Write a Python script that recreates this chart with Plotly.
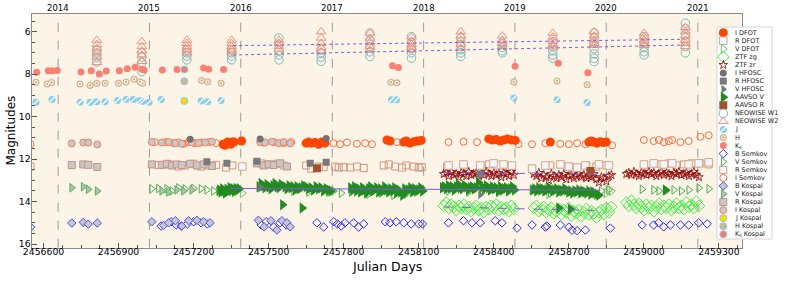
import plotly.graph_objects as go

W, H = 789, 282
OFF = 0  # body margin removed by post_script below, so figure pixels == screenshot pixels
# plot-area pixel box (measured in the reference picture)
PL, PR, PT, PB = 31.5, 741.7, 14.0, 247.7
X_RANGE = [2456552, 2459391]
Y_RANGE = [16.17, 5.17]

# ---------------- data ----------------
kos_I_jd = [2456713, 2456759, 2456779, 2456815, 2457033, 2457073, 2457100, 2457127, 2457153, 2457193,
            2457220, 2457246, 2457273, 2457466, 2457486, 2457513, 2457540, 2457560, 2457586]
kos_I_mag = [11.26, 11.22, 11.22, 11.31, 11.2, 11.22, 11.2, 11.25, 11.28, 11.22,
             11.24, 11.22, 11.18, 11.2, 11.22, 11.18, 11.25, 11.2, 11.26]
kos_R_jd = [2456713, 2456759, 2456779, 2456815, 2457033, 2457073, 2457093, 2457113, 2457133, 2457153,
            2457186, 2457213, 2457240, 2457273, 2457453, 2457480, 2457500, 2457520, 2457546, 2457573]
kos_R_mag = [12.28, 12.25, 12.27, 12.37, 12.25, 12.27, 12.22, 12.3, 12.25, 12.28,
             12.22, 12.3, 12.25, 12.32, 12.2, 12.3, 12.25, 12.28, 12.2, 12.35]
kos_V_jd = [2456713, 2456759, 2456779, 2456815, 2457073, 2457100, 2457133, 2457160, 2457193, 2457466]
kos_V_mag = [13.35, 13.3, 13.42, 13.5, 13.5, 13.55, 13.45, 13.5, 13.45, 13.35]
kos_B_jd = [2456713, 2456759, 2456779, 2456815, 2457033, 2457080, 2457100, 2457127, 2457153, 2457180,
            2457213, 2457240, 2457266, 2457459, 2457482, 2457509, 2457533, 2457553, 2457573, 2457586]
kos_B_mag = [15.01, 14.98, 15.06, 15.01, 14.95, 15.12, 15.0, 14.9, 15.15, 14.9,
             14.88, 14.95, 15.0, 14.88, 15.19, 14.9, 15.34, 14.9, 15.0, 15.19]
kos_J_jd, kos_J_mag = [2457163], [9.26]
kos_H_jd, kos_H_mag = [2457163], [8.34]
kos_K_jd, kos_K_mag = [2457163], [7.78]

sem_I_jd = [2456548, 2457045, 2457090, 2457120, 2457140, 2457160, 2457180, 2457205, 2457230, 2457260,
            2457290, 2457480, 2457520, 2457560, 2457590, 2457700, 2457759, 2457786, 2457813, 2457853,
            2457886, 2457913, 2458013, 2458060, 2458219, 2458279, 2458333, 2458499, 2458553, 2458606,
            2458666, 2458700, 2458733, 2458766, 2458873, 2459000, 2459039, 2459060, 2459080, 2459100,
            2459113, 2459146, 2459179, 2459226, 2459259]
sem_I_mag = [11.3, 11.2, 11.2, 11.25, 11.22, 11.28, 11.2, 11.25, 11.22, 11.2,
             11.25, 11.22, 11.2, 11.25, 11.2, 11.3, 11.25, 11.3, 11.22, 11.28,
             11.25, 11.3, 11.2, 11.25, 11.2, 11.18, 11.2, 11.3, 11.3, 11.25,
             11.28, 11.3, 11.25, 11.3, 11.35, 11.1, 11.15, 11.1, 11.2, 11.15,
             11.1, 11.2, 11.15, 10.95, 10.88]
sem_R_jd = [2456548, 2457060, 2457100, 2457140, 2457166, 2457200, 2457230, 2457260, 2457290, 2457330,
            2457355, 2457470, 2457493, 2457530, 2457560, 2457650, 2457670, 2457700, 2457720, 2457766,
            2457780, 2457800, 2457826, 2457853, 2457880, 2457960, 2457980, 2458006, 2458033, 2458050,
            2458080, 2458100, 2458112, 2458213, 2458280, 2458346, 2458380, 2458420, 2458450, 2458553,
            2458626, 2458666, 2458700, 2458733, 2458770, 2458810, 2458850, 2459000, 2459040, 2459070,
            2459100, 2459130, 2459160, 2459190, 2459226, 2459259]
sem_R_mag = [12.35, 12.28, 12.25, 12.35, 12.3, 12.22, 12.35, 12.3, 12.27, 12.4,
             12.3, 12.2, 12.25, 12.22, 12.3, 12.3, 12.45, 12.35, 12.38, 12.35,
             12.4, 12.38, 12.4, 12.35, 12.42, 12.3, 12.25, 12.35, 12.4, 12.3,
             12.35, 12.4, 12.38, 12.35, 12.3, 12.4, 12.25, 12.3, 12.35, 12.45,
             12.3, 12.25, 12.35, 12.4, 12.3, 12.35, 12.3, 12.3, 12.2, 12.25,
             12.2, 12.3, 12.25, 12.2, 12.2, 12.25]
sem_V_jd = [2457033, 2457060, 2457093, 2457113, 2457140, 2457166, 2457200, 2457230, 2457253, 2457280,
            2457300, 2457600, 2457660, 2457740, 2457760, 2457790, 2457830, 2457900, 2457950, 2458000,
            2458050, 2458220, 2458300, 2458350, 2458420, 2458553, 2458626, 2458800, 2458830, 2458860,
            2458993, 2459039, 2459060, 2459090, 2459120, 2459150, 2459180, 2459220, 2459260]
sem_V_mag = [13.4, 13.38, 13.4, 13.5, 13.35, 13.4, 13.38, 13.4, 13.45, 13.5,
             13.5, 13.5, 13.55, 13.55, 13.5, 13.6, 13.55, 13.65, 13.6, 13.7,
             13.65, 13.5, 13.55, 13.6, 13.55, 13.45, 13.6, 13.55, 13.5, 13.45,
             13.42, 13.45, 13.5, 13.48, 13.45, 13.5, 13.45, 13.35, 13.4]
sem_B_jd = [2456548, 2457070, 2457110, 2457130, 2457150, 2457175, 2457200, 2457230, 2457255, 2457470,
            2457490, 2457520, 2457545, 2457570, 2457693, 2457720, 2457760, 2457775, 2457790, 2457805,
            2457840, 2457860, 2457880, 2457966, 2457985, 2458010, 2458040, 2458070, 2458100, 2458115,
            2458219, 2458279, 2458313, 2458346, 2458406, 2458433, 2458493, 2458553, 2458606, 2458612,
            2458666, 2458700, 2458713, 2458733, 2458766, 2458866, 2458993, 2459039, 2459059, 2459079,
            2459106, 2459146, 2459179, 2459219, 2459253]
sem_B_mag = [15.2, 15.15, 14.95, 15.1, 15.15, 15.05, 14.95, 15.0, 15.05, 15.1,
             14.95, 15.2, 15.0, 15.1, 15.0, 15.2, 14.95, 15.05, 15.15, 15.0,
             15.0, 15.2, 15.05, 14.95, 15.0, 14.95, 15.0, 15.05, 15.05, 15.05,
             15.0, 14.9, 15.0, 15.0, 14.9, 15.0, 15.25, 15.1, 15.2, 15.15,
             15.1, 15.2, 15.35, 15.37, 15.34, 15.25, 15.1, 15.1, 15.0, 15.19,
             15.1, 15.1, 15.1, 15.0, 15.05]

dfot_I_jd = [2457318, 2457325, 2457330, 2457336, 2457342, 2457348, 2457355, 2457362, 2457392, 2457650,
             2457660, 2457670, 2457685, 2457700, 2457712, 2457725, 2457973, 2457985, 2458040, 2458050,
             2458065, 2458080, 2458095, 2458110, 2458380, 2458395, 2458410, 2458425, 2458440, 2458455,
             2458470, 2458486, 2458626, 2458780, 2458790, 2458800, 2458812, 2458825, 2458838, 2458850]
dfot_I_mag = [11.3, 11.35, 11.25, 11.2, 11.25, 11.3, 11.2, 11.2, 11.15, 11.25,
              11.2, 11.25, 11.22, 11.3, 11.2, 11.25, 11.1, 11.15, 11.2, 11.15,
              11.25, 11.18, 11.15, 11.12, 11.05, 11.1, 11.08, 11.15, 11.1, 11.05,
              11.1, 11.12, 11.2, 11.2, 11.15, 11.2, 11.25, 11.18, 11.22, 11.2]
dfot_R_jd = [2457395, 2458219, 2458279, 2458346, 2458413, 2458399, 2458439, 2458473, 2458553, 2458606,
             2458666, 2458700, 2458733, 2458766, 2458820, 2458860, 2459000, 2459039, 2459080, 2459113,
             2459179, 2459219, 2459259]
dfot_R_mag = [12.35, 12.3, 12.25, 12.3, 12.28, 12.2, 12.25, 12.3, 12.45, 12.3,
              12.25, 12.35, 12.4, 12.3, 12.25, 12.3, 12.25, 12.2, 12.25, 12.2,
              12.25, 12.2, 12.15]
dfot_V_jd = [2457395, 2458420, 2458620, 2458850, 2458870]
dfot_V_mag = [13.6, 13.55, 13.65, 13.6, 13.5]

hf_I_jd, hf_I_mag = [2457186, 2457466, 2457730], [11.07, 11.05, 11.03]
hf_R_jd = [2457253, 2457333, 2457453, 2457666, 2457730, 2458346]
hf_R_mag = [12.12, 12.2, 12.1, 12.2, 12.15, 12.7]
hf_V_jd, hf_V_mag = [2457466, 2458346], [13.3, 13.68]

aav_R_jd, aav_R_mag = [2457693, 2458786], [12.43, 12.56]
aav_V_jd = [2457304, 2457310, 2457316, 2457322, 2457328, 2457334, 2457340, 2457346, 2457352, 2457358,
            2457364, 2457370, 2457376, 2457382,
            2457462, 2457470, 2457478, 2457486, 2457494, 2457502, 2457510, 2457518, 2457526, 2457534,
            2457542, 2457550, 2457566, 2457574, 2457582, 2457590, 2457598, 2457606, 2457614, 2457622,
            2457630, 2457640, 2457650, 2457660, 2457670, 2457680, 2457690, 2457700, 2457710, 2457720,
            2457730, 2457740, 2457750, 2457556, 2457634,
            2457828, 2457836, 2457844, 2457852, 2457860, 2457868, 2457876, 2457884, 2457892, 2457900,
            2457908, 2457916, 2457924, 2457932, 2457940, 2457948, 2457956, 2457964, 2457972, 2457980,
            2457988, 2457996, 2458004, 2458012, 2458020, 2458028, 2458036, 2458044, 2458052, 2458060,
            2458068, 2458076, 2458084, 2458092, 2458100, 2458108, 2458116,
            2458195, 2458203, 2458211, 2458219, 2458227, 2458235, 2458243, 2458251, 2458259, 2458267,
            2458275, 2458283, 2458291, 2458299, 2458307, 2458315, 2458323, 2458331, 2458339, 2458355,
            2458363, 2458371, 2458379, 2458387, 2458395, 2458403, 2458411, 2458419, 2458427, 2458435,
            2458443, 2458451, 2458459, 2458467, 2458475, 2458483,
            2458556, 2458564, 2458572, 2458580, 2458588, 2458596, 2458604, 2458612, 2458620, 2458628,
            2458636, 2458644, 2458652, 2458660, 2458668, 2458676, 2458684, 2458692, 2458700, 2458708,
            2458716, 2458724, 2458732, 2458740, 2458748, 2458756, 2458764, 2458772, 2458780, 2458788,
            2458796, 2458804, 2458812, 2458820, 2458660, 2458706, 2459086]
aav_V_mag = [13.45, 13.55, 13.4, 13.5, 13.6, 13.42, 13.5, 13.35, 13.48, 13.4,
             13.52, 13.38, 13.45, 13.4,
             13.3, 13.15, 13.25, 13.35, 13.2, 13.3, 13.4, 13.25, 13.15, 13.3,
             13.35, 13.2, 13.3, 13.4, 13.25, 13.35, 13.3, 13.45, 13.3, 13.4,
             13.35, 13.25, 13.3, 13.4, 13.35, 13.45, 13.3, 13.4, 13.35, 13.5,
             13.4, 13.45, 13.5, 14.15, 14.3,
             13.35, 13.45, 13.3, 13.5, 13.4, 13.55, 13.35, 13.45, 13.6, 13.4,
             13.3, 13.5, 13.45, 13.35, 13.55, 13.4, 13.5, 13.3, 13.45, 13.55,
             13.4, 13.5, 13.35, 13.6, 13.45, 13.55, 13.7, 13.4, 13.5, 13.45,
             13.35, 13.55, 13.4, 13.5, 13.45, 13.35, 13.5,
             13.35, 13.3, 13.4, 13.25, 13.35, 13.3, 13.45, 13.3, 13.2, 13.35,
             13.4, 13.25, 13.3, 13.45, 13.35, 13.3, 13.4, 13.35, 13.1, 13.3,
             13.4, 13.25, 13.35, 13.45, 13.3, 13.4, 13.35, 13.5, 13.3, 13.45,
             13.4, 13.35, 13.5, 13.4, 13.3, 13.45,
             13.45, 13.4, 13.5, 13.35, 13.45, 13.4, 13.5, 13.45, 13.35, 13.4,
             13.5, 13.45, 13.4, 13.55, 13.45, 13.5, 13.4, 13.45, 13.55, 13.5,
             13.6, 13.5, 13.55, 13.45, 13.6, 13.5, 13.55, 13.6, 13.5, 13.65,
             13.55, 13.6, 13.65, 13.7, 14.3, 14.35, 13.45]

zg_jd = [2458200, 2458210, 2458220, 2458230, 2458240, 2458250, 2458260, 2458270, 2458280, 2458290,
         2458300, 2458310, 2458320, 2458330, 2458340, 2458350, 2458360, 2458370, 2458380, 2458390,
         2458400, 2458410, 2458420, 2458430, 2458440, 2458450, 2458460, 2458470, 2458480,
         2458560, 2458570, 2458580, 2458590, 2458600, 2458610, 2458620, 2458630, 2458640, 2458650,
         2458660, 2458670, 2458680, 2458690, 2458700, 2458710, 2458720, 2458730, 2458740, 2458750,
         2458760, 2458770, 2458780, 2458790, 2458800, 2458810, 2458820, 2458830, 2458840, 2458850,
         2458860, 2458870,
         2458930, 2458940, 2458950, 2458960, 2458970, 2458980, 2458990, 2459000, 2459010, 2459020,
         2459030, 2459040, 2459050, 2459060, 2459070, 2459080, 2459090, 2459100, 2459110, 2459120,
         2459130, 2459140, 2459150, 2459160, 2459170, 2459180, 2459190, 2459200, 2459210, 2459220]
zg_mag = [14.2, 14.05, 14.3, 14.15, 14.25, 14.4, 14.2, 14.3, 14.15, 14.35,
          14.25, 14.45, 14.3, 14.2, 14.4, 14.3, 14.5, 14.25, 14.35, 14.2,
          14.3, 14.15, 14.4, 14.25, 14.35, 14.3, 14.45, 14.2, 14.35,
          14.3, 14.2, 14.45, 14.35, 14.25, 14.5, 14.4, 14.3, 14.55, 14.45,
          14.35, 14.6, 14.4, 14.5, 14.3, 14.65, 14.45, 14.55, 14.4, 14.7,
          14.5, 14.35, 14.6, 14.45, 14.55, 14.75, 14.5, 14.4, 14.6, 14.3,
          14.5, 14.25,
          14.05, 14.2, 13.95, 14.15, 14.3, 14.1, 14.25, 14.4, 14.15, 14.3,
          14.2, 14.45, 14.25, 14.1, 14.35, 14.2, 14.3, 14.15, 14.4, 14.25,
          14.1, 14.3, 14.2, 14.35, 14.05, 14.25, 14.15, 14.3, 14.0, 14.2]
zr_jd = zg_jd
zr_mag = [12.7, 12.65, 12.8, 12.6, 12.75, 12.7, 12.85, 12.65, 12.7, 12.8,
          12.6, 12.75, 12.7, 12.65, 12.8, 12.7, 12.75, 12.6, 12.7, 12.8,
          12.65, 12.75, 12.7, 12.85, 12.65, 12.7, 12.8, 12.6, 12.75,
          12.7, 12.8, 12.65, 12.9, 12.75, 12.85, 13.0, 12.7, 12.8, 12.9,
          12.75, 12.85, 12.7, 12.95, 12.8, 12.75, 12.9, 12.8, 12.7, 12.85,
          12.75, 12.9, 12.8, 12.85, 12.7, 12.95, 13.1, 12.85, 12.9, 13.05,
          12.8, 12.75,
          12.7, 12.65, 12.75, 12.6, 12.7, 12.8, 12.65, 12.7, 12.75, 12.6,
          12.7, 12.65, 12.8, 12.7, 12.6, 12.75, 12.65, 12.7, 12.8, 12.65,
          12.7, 12.6, 12.75, 12.7, 12.65, 12.8, 12.7, 12.6, 12.75, 12.85]

neo_epochs = [2456813, 2456993, 2457173, 2457352, 2457541, 2457710, 2457905,
              2458071, 2458268, 2458434, 2458636, 2458801, 2459001, 2459166]
w1_mags = [[6.85, 7.0, 7.2, 7.43], [7.0, 7.2, 7.45, 7.88], [6.86, 7.0, 7.15, 7.33],
           [6.86, 7.0, 7.15, 7.33], [6.3, 6.6, 6.9, 7.1, 7.33], [6.86, 7.0, 7.2, 7.4],
           [6.07, 6.4, 6.7, 6.95, 7.17], [6.23, 6.5, 6.8, 7.0, 7.25], [6.3, 6.6, 6.85, 7.0, 7.17],
           [6.55, 6.75, 6.9, 7.0], [6.47, 6.7, 6.9, 7.1, 7.25], [6.07, 6.3, 6.55, 6.8, 7.05, 7.25, 7.41],
           [6.23, 6.5, 6.75, 6.95, 7.1], [5.6, 5.85, 6.15, 6.45, 6.7, 7.0]]
w2_mags = [[6.4, 6.6, 6.8, 7.0, 7.2, 7.45], [6.47, 6.7, 6.9, 7.1, 7.4], [6.4, 6.55, 6.7, 6.85, 7.0],
           [6.4, 6.55, 6.7, 6.85, 6.95], [6.4, 6.55, 6.7, 6.85], [6.0, 6.3, 6.55, 6.75, 6.95],
           [6.07, 6.3, 6.5, 6.7, 6.85], [6.25, 6.45, 6.6, 6.75, 6.85], [6.0, 6.2, 6.4, 6.6, 6.78],
           [6.2, 6.4, 6.55, 6.7], [6.07, 6.25, 6.45, 6.6, 6.72], [6.0, 6.2, 6.4, 6.55, 6.65],
           [6.07, 6.25, 6.4, 6.55, 6.65], [5.8, 6.0, 6.2, 6.4, 6.55, 6.7]]

J_jd = [2456570, 2456634, 2456746, 2456786, 2456812, 2456846, 2456896, 2456930, 2456959, 2456986,
        2456996, 2457022, 2457070, 2457230, 2457256, 2457310, 2457991, 2458012, 2458480, 2458653,
        2458773]
J_mag = [9.32, 9.2, 9.32, 9.32, 9.3, 9.3, 9.24, 9.2, 9.2, 9.24,
         9.29, 9.32, 9.2, 9.27, 9.3, 9.24, 9.21, 9.21, 9.12, 9.21,
         9.33]
H_jd = [2456570, 2456614, 2456632, 2456746, 2456786, 2456813, 2456846, 2456900, 2456930, 2456962,
        2456986, 2456996, 2457232, 2457256, 2457310, 2457989, 2458013, 2458480, 2458653, 2458773]
H_mag = [8.38, 8.46, 8.39, 8.46, 8.53, 8.43, 8.43, 8.43, 8.37, 8.24,
         8.37, 8.43, 8.3, 8.36, 8.43, 8.38, 8.41, 8.37, 8.32, 8.5]
Ks_jd = [2456573, 2456619, 2456635, 2456655, 2456750, 2456791, 2456823, 2456851, 2456903, 2456935,
         2456966, 2456993, 2457002, 2457075, 2457134, 2457240, 2457260, 2457320, 2457995, 2458019,
         2458485, 2458658, 2458776]
Ks_mag = [7.91, 7.84, 7.84, 7.83, 7.9, 7.84, 8.0, 7.85, 7.84, 7.75,
          7.68, 7.77, 7.8, 7.8, 7.78, 7.71, 7.77, 7.78, 7.6, 7.69,
          7.63, 7.49, 7.93]

# trend lines
fit_w2_jd, fit_w2_mag = [2457358, 2459160], [6.66, 6.36]
fit_w1_jd, fit_w1_mag = [2457358, 2459160], [7.10, 6.63]
fit_V_jd, fit_V_mag = [2457346, 2458826], [13.38, 13.46]
fit_zr_jd, fit_zr_mag = [2458200, 2458860], [12.63, 12.72]
fit_zg_jd, fit_zg_mag = [2458200, 2458800], [14.25, 14.42]

year_labels = ["2014", "2015", "2016", "2017", "2018", "2019", "2020", "2021"]
year_jd = [2456658.5, 2457023.5, 2457388.5, 2457754.5, 2458119.5, 2458484.5, 2458849.5, 2459215.5]

# ---------------- styles ----------------
ST = {
    "I DFOT": dict(symbol="circle", size=9, color="#FF4500", lc="#FF4500", lw=0),
    "R DFOT": dict(symbol="square", size=7.5, color="#EEF8F8", lc="#DCA592", lw=1),
    "V DFOT": dict(symbol="triangle-right-open", size=8, color="#6CC46C", lw=1),
    "ZTF zg": dict(symbol="diamond-open", size=9, color="#45F045", lw=1),
    "ZTF zr": dict(symbol="star-open", size=6.5, color="#8B0000", lw=0.8),
    "I HFOSC": dict(symbol="circle", size=7, color="#7A6E6E", lc="#7A6E6E", lw=0),
    "R HFOSC": dict(symbol="square", size=7, color="#7A7A7A", lc="#7A7A7A", lw=0),
    "V HFOSC": dict(symbol="triangle-right", size=7.5, color="#6B7D6B", lc="#6B7D6B", lw=0),
    "AAVSO V": dict(symbol="triangle-right", size=10, color="#228B22", lc="#228B22", lw=0),
    "AAVSO R": dict(symbol="square", size=8, color="#A0522D", lc="#A0522D", lw=0),
    "NEOWISE W1": dict(symbol="circle-open", size=8.5, color="#7DB8BA", lw=1),
    "NEOWISE W2": dict(symbol="triangle-up-open", size=8.5, color="#F7907A", lw=1),
    "J": dict(symbol="circle", size=7, color="#87CEEB", lc="#87CEEB", lw=0),
    "H": dict(symbol="circle", size=7, color="#D2B48C", lc="#D2B48C", lw=0),
    "Ks": dict(symbol="circle", size=7, color="#FA8072", lc="#FA8072", lw=0),
    "B Semkov": dict(symbol="diamond-open", size=6.5, color="#2B2BFF", lw=1),
    "V Semkov": dict(symbol="triangle-right-open", size=7.5, color="#4CAF50", lw=1),
    "R Semkov": dict(symbol="square-open", size=7, color="#D0957E", lw=1),
    "I Semkov": dict(symbol="circle-open", size=7, color="#FF6B3D", lw=1),
    "B Kospal": dict(symbol="diamond", size=6.5, color="#C6C6CC", lc="#5050F0", lw=1),
    "V Kospal": dict(symbol="triangle-right", size=7.5, color="#B2C2B2", lc="#5AB05A", lw=1),
    "R Kospal": dict(symbol="square", size=7, color="#C8C8C8", lc="#C89080", lw=1),
    "I Kospal": dict(symbol="circle", size=7, color="#C8C8C8", lc="#F07F60", lw=1),
    "J Kospal": dict(symbol="circle", size=7, color="#FFD700", lc="#87CEEB", lw=1),
    "H Kospal": dict(symbol="circle", size=7, color="#D2B48C", lc="#87CEEB", lw=1),
    "Ks Kospal": dict(symbol="circle", size=7, color="#F47A6E", lc="#87CEEB", lw=1),
}
LEGEND_ORDER = ["I DFOT", "R DFOT", "V DFOT", "ZTF zg", "ZTF zr", "I HFOSC", "R HFOSC", "V HFOSC",
                "AAVSO V", "AAVSO R", "NEOWISE W1", "NEOWISE W2", "J", "H", "Ks",
                "B Semkov", "V Semkov", "R Semkov", "I Semkov", "B Kospal", "V Kospal",
                "R Kospal", "I Kospal", "J Kospal", "H Kospal", "Ks Kospal"]
LEGEND_TEXT = {"Ks": "K<sub>s</sub>", "Ks Kospal": "K<sub>s</sub> Kospal"}


def mk(x, y, name, xa="x", ya="y"):
    st = ST[name]
    marker = dict(symbol=st["symbol"], size=st["size"], color=st["color"],
                  line=dict(color=st.get("lc", st["color"]), width=st.get("lw", 0)))
    out = [go.Scatter(x=x, y=y, mode="markers", marker=marker, xaxis=xa, yaxis=ya,
                      showlegend=False, hoverinfo="skip")]
    if name == "J":
        out.append(go.Scatter(x=x, y=y, mode="markers", xaxis=xa, yaxis=ya, showlegend=False,
                              hoverinfo="skip",
                              marker=dict(symbol="line-ne", size=5, line=dict(color="white", width=1.3))))
    if name == "H":
        out.append(go.Scatter(x=x, y=y, mode="markers", xaxis=xa, yaxis=ya, showlegend=False,
                              hoverinfo="skip",
                              marker=dict(symbol="circle-open", size=3.6, color="white",
                                          line=dict(color="white", width=1))))
    return out


fig = go.Figure()
series = [
    (sem_B_jd, sem_B_mag, "B Semkov"), (sem_V_jd, sem_V_mag, "V Semkov"),
    (sem_R_jd, sem_R_mag, "R Semkov"), (sem_I_jd, sem_I_mag, "I Semkov"),
    (kos_B_jd, kos_B_mag, "B Kospal"), (kos_V_jd, kos_V_mag, "V Kospal"),
    (kos_R_jd, kos_R_mag, "R Kospal"), (kos_I_jd, kos_I_mag, "I Kospal"),
    (zr_jd, zr_mag, "ZTF zr"), (zg_jd, zg_mag, "ZTF zg"),
    (dfot_R_jd, dfot_R_mag, "R DFOT"), (dfot_V_jd, dfot_V_mag, "V DFOT"),
    (dfot_I_jd, dfot_I_mag, "I DFOT"),
    (aav_V_jd, aav_V_mag, "AAVSO V"), (aav_R_jd, aav_R_mag, "AAVSO R"),
    (hf_I_jd, hf_I_mag, "I HFOSC"), (hf_R_jd, hf_R_mag, "R HFOSC"), (hf_V_jd, hf_V_mag, "V HFOSC"),
]
for x, y, n in series:
    for t in mk(x, y, n):
        fig.add_trace(t)

w1x, w1y, w2x, w2y = [], [], [], []
for ep, m1, m2 in zip(neo_epochs, w1_mags, w2_mags):
    w1x += [ep] * len(m1); w1y += m1
    w2x += [ep] * len(m2); w2y += m2
for t in mk(w1x, w1y, "NEOWISE W1") + mk(w2x, w2y, "NEOWISE W2"):
    fig.add_trace(t)

for x, y, n in [(Ks_jd, Ks_mag, "Ks"), (H_jd, H_mag, "H"), (J_jd, J_mag, "J"),
                (kos_K_jd, kos_K_mag, "Ks Kospal"), (kos_H_jd, kos_H_mag, "H Kospal"),
                (kos_J_jd, kos_J_mag, "J Kospal")]:
    for t in mk(x, y, n):
        fig.add_trace(t)

PURPLE = "#7E5CD0"
for x, y, dash in [(fit_w2_jd, fit_w2_mag, "dot"), (fit_w1_jd, fit_w1_mag, "dot"),
                   (fit_V_jd, fit_V_mag, "solid"), (fit_zr_jd, fit_zr_mag, "dash"),
                   (fit_zg_jd, fit_zg_mag, "dash")]:
    fig.add_trace(go.Scatter(x=x, y=y, mode="lines", showlegend=False, hoverinfo="skip",
                             line=dict(color=PURPLE, width=1, dash=dash)))

# ---------------- manual legend on a pixel overlay axis (values = screenshot pixels) ----------------
LX0, LX1, LY0, LY1 = 717, 772, 27, 239
fig.add_trace(go.Scatter(x=[LX0, LX1, LX1, LX0, LX0], y=[LY0, LY0, LY1, LY1, LY0],
                         mode="lines", fill="toself", fillcolor="white",
                         line=dict(color="#D5D5D5", width=1), xaxis="x3", yaxis="y3",
                         showlegend=False, hoverinfo="skip"))
annotations = []
step = (234.3 - 32.7) / (len(LEGEND_ORDER) - 1)
for i, name in enumerate(LEGEND_ORDER):
    yy = 32.7 + i * step
    for t in mk([723.3], [yy], name, "x3", "y3"):
        fig.add_trace(t)
    annotations.append(dict(x=733, y=yy, xref="x3", yref="y3", xanchor="left", yanchor="middle",
                            text=LEGEND_TEXT.get(name, name), showarrow=False,
                            font=dict(size=6.5, color="#222", family="DejaVu Sans")))

# axis titles & year labels
annotations.append(dict(x=386.5, y=266, xref="x3", yref="y3", text="Julian Days", showarrow=False,
                        font=dict(size=12.5, color="black", family="DejaVu Sans")))
annotations.append(dict(x=10.5, y=131, xref="x3", yref="y3", text="Magnitudes", showarrow=False,
                        textangle=-90, font=dict(size=12, color="black", family="DejaVu Sans")))
for lab, jd in zip(year_labels, year_jd):
    annotations.append(dict(x=jd, y=1.0, xref="x", yref="y domain", yanchor="bottom",
                            text=lab, showarrow=False, yshift=-1,
                            font=dict(size=8.5, color="black", family="DejaVu Sans")))

shapes = [dict(type="rect", xref="x domain", yref="y domain", x0=0, x1=1, y0=0, y1=1,
               fillcolor="#FCF4E7", line=dict(width=0), layer="below")]
for jd in year_jd:
    shapes.append(dict(type="line", xref="x", yref="y domain", x0=jd, x1=jd, y0=0, y1=1,
                       line=dict(color="#9A9A9A", width=1, dash="dash"), layer="below"))

AX = "#8A8A8A"
fig.update_layout(
    width=W, height=H, margin=dict(l=0, r=0, t=0, b=0),
    paper_bgcolor="white", plot_bgcolor="rgba(0,0,0,0)",
    font=dict(family="DejaVu Sans", color="black"),
    showlegend=False, shapes=shapes, annotations=annotations,
    xaxis=dict(domain=[(PL - OFF) / W, (PR - OFF) / W], range=X_RANGE, anchor="y", showgrid=False,
               zeroline=False, showline=True, linecolor=AX, linewidth=1, mirror=True,
               tick0=2456600, dtick=300, tickformat="d", ticks="inside", ticklen=5, tickcolor="#555",
               tickfont=dict(size=9.3, color="black"), automargin=False, ticklabelstandoff=-5,
               minor=dict(dtick=75, tick0=2456600, ticks="inside", ticklen=3, tickcolor="#555")),
    yaxis=dict(domain=[1 - (PB - OFF) / H, 1 - (PT - OFF) / H], range=Y_RANGE, anchor="x",
               showgrid=False, zeroline=False, showline=True, linecolor=AX, linewidth=1, mirror=True,
               tick0=6, dtick=2, ticks="inside", ticklen=5, tickcolor="#555",
               tickfont=dict(size=9.3, color="black"), automargin=False, ticklabelstandoff=-2,
               minor=dict(dtick=0.5, ticks="inside", ticklen=3, tickcolor="#555")),
    xaxis3=dict(domain=[0, 1], range=[OFF, W + OFF], anchor="y3", visible=False, fixedrange=True),
    yaxis3=dict(domain=[0, 1], range=[H + OFF, OFF], anchor="x3", visible=False, fixedrange=True),
)

fig.write_html("out.html", config={"displayModeBar": False},
               post_script="document.body.style.margin='0px';")
